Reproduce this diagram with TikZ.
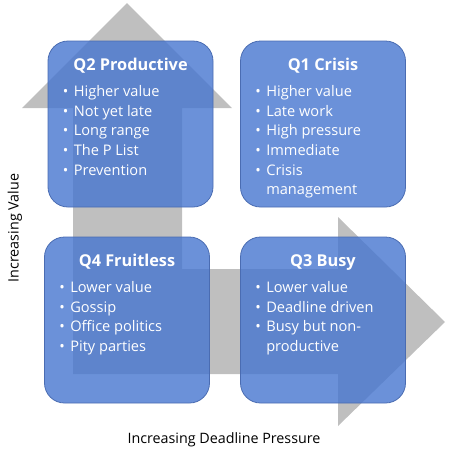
\documentclass[tikz,border=0pt]{standalone}
\usepackage{fontspec}
\setmainfont{Open Sans}
\usetikzlibrary{positioning}
\definecolor{quadblue}{RGB}{70,118,208}
\definecolor{quadedge}{RGB}{74,108,178}
\definecolor{arrowgray}{RGB}{191,191,191}
\newcommand{\qitem}[1]{\makebox[11pt][l]{\textbullet}#1}

\begin{document}
\begin{tikzpicture}[x=1pt, y=-1pt,
    quad/.style={draw=quadedge, line width=0.8pt, fill=quadblue, fill opacity=0.8,
      rounded corners=20pt, minimum width=165pt, minimum height=166pt},
    qtitle/.style={text=white, font=\bfseries\fontsize{16.3}{19}\selectfont, anchor=base},
    qlist/.style={text=white, align=left, anchor=north west, inner sep=0pt,
      font=\fontsize{14.6}{19.7}\selectfont},
    axislabel/.style={font=\fontsize{14.3}{17}\selectfont}]
    \useasboundingbox (0,0) rectangle (450,459);

    % bent gray arrow behind the quadrants
    \fill [arrowgray] (73,374) -- (73,108) -- (22,108) -- (127,3) -- (232,108)
      -- (182,108) -- (182,269) -- (338,269) -- (338,217) -- (445,322)
      -- (338,426) -- (338,374) -- cycle;

    \node [quad] (q2) at (130.5,124) {};
    \node [quad] (q1) at (323,124) {};
    \node [quad] (q4) at (127,320) {};
    \node [quad] (q3) at (323,320) {};

    \node [qtitle] (q2t) at ([shift={(0,30)}]q2.north) {Q2 Productive};
    \node [qtitle] (q1t) at ([shift={(0,30)}]q1.north) {Q1 Crisis};
    \node [qtitle] (q4t) at ([shift={(0,30)}]q4.north) {Q4 Fruitless};
    \node [qtitle] (q3t) at ([shift={(0,30)}]q3.north) {Q3 Busy};

    \node [qlist] (q2l) at ([shift={(15,44.5)}]q2.north west)
      {\qitem{Higher value}\\\qitem{Not yet late}\\\qitem{Long range}\\\qitem{The P List}\\\qitem{Prevention}};
    \node [qlist] (q1l) at ([shift={(15,44.5)}]q1.north west)
      {\qitem{Higher value}\\\qitem{Late work}\\\qitem{High pressure}\\\qitem{Immediate}\\\qitem{Crisis}\\\hspace*{11pt}management};
    \node [qlist] (q4l) at ([shift={(15,44.5)}]q4.north west)
      {\qitem{Lower value}\\\qitem{Gossip}\\\qitem{Office politics}\\\qitem{Pity parties}};
    \node [qlist] (q3l) at ([shift={(15,44.5)}]q3.north west)
      {\qitem{Lower value}\\\qitem{Deadline driven}\\\qitem{Busy but non-}\\\hspace*{11pt}productive};

    \node [axislabel, rotate=90] (vlab) at (15,228) {Increasing Value};
    \node [axislabel] (hlab) at (224,440) {Increasing Deadline Pressure};
\end{tikzpicture}
\end{document}
